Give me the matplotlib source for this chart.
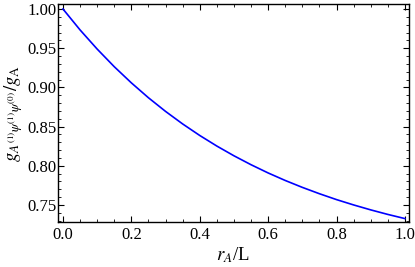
import matplotlib
matplotlib.use('Agg')
import matplotlib.pyplot as plt
from matplotlib.ticker import MultipleLocator

# ratio of couplings vs r_A/L
r_over_L = [0.0, 0.05, 0.1, 0.15, 0.2, 0.25, 0.3, 0.35, 0.4, 0.45, 0.5,
            0.55, 0.6, 0.65, 0.7, 0.75, 0.8, 0.85, 0.9, 0.95, 1.0]
g_ratio = [1.0000, 0.9733, 0.9489, 0.9264, 0.9058, 0.8868, 0.8694, 0.8534, 0.8387, 0.8252, 0.8128,
           0.8014, 0.7909, 0.7813, 0.7725, 0.7644, 0.7569, 0.7501, 0.7438, 0.7380, 0.7327]

plt.rcParams['font.family'] = ['Liberation Serif', 'DejaVu Serif']
plt.rcParams['mathtext.fontset'] = 'stix'

fig = plt.figure(figsize=(4.15, 2.67), dpi=100)
ax = fig.add_axes([0.1386, 0.1667, 0.8469, 0.8183])

ax.plot(r_over_L, g_ratio, color='#0000ff', linewidth=1.2)

ax.set_xlim(-0.016, 1.012)
ax.set_ylim(0.7277, 1.0064)

# Mathematica-like frame ticks on all sides
ax.xaxis.set_major_locator(MultipleLocator(0.2))
ax.xaxis.set_minor_locator(MultipleLocator(0.05))
ax.yaxis.set_major_locator(MultipleLocator(0.05))
ax.yaxis.set_minor_locator(MultipleLocator(0.01))
ax.xaxis.set_major_formatter(lambda v, p: f'{v:.1f}')
ax.yaxis.set_major_formatter(lambda v, p: f'{v:.2f}')
ax.tick_params(which='both', direction='in', top=True, right=True, labelsize=12)
ax.tick_params(which='major', length=4, width=0.8)
ax.tick_params(which='minor', length=2, width=0.6)
ax.tick_params(axis='y', pad=1)
ax.tick_params(axis='x', pad=3)
for s in ax.spines.values():
    s.set_linewidth(1.0)

ax.set_xlabel(r'$r_A$/L', fontsize=13.5, labelpad=2)
ax.set_ylabel(r'$g_{A^{(1)}\psi^{(1)}\psi^{(0)}}/g_{\rm A}$', fontsize=13.5, labelpad=1)

fig.savefig('out.png', dpi=100)
